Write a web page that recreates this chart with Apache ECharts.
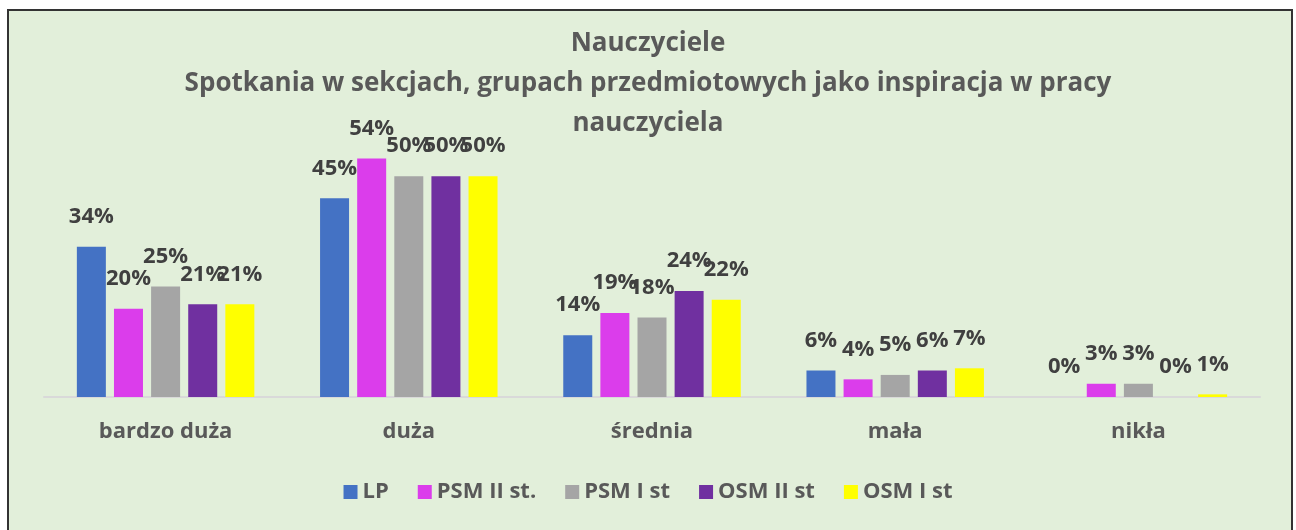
<!DOCTYPE html>
<html>
<head>
<meta charset="utf-8">
<script src="https://cdn.jsdelivr.net/npm/echarts@6/dist/echarts.min.js"></script>
<style>
  html, body { margin: 0; padding: 0; background: #fff; }
  #chart { width: 1296px; height: 530px; }
</style>
</head>
<body>
<div id="chart"></div>
<script>
// kategorie i serie (w %)
var categories = ['bardzo duża', 'duża', 'średnia', 'mała', 'nikła'];
var seriesNames = ['LP', 'PSM II st.', 'PSM I st', 'OSM II st', 'OSM I st'];
var lpData = [34, 45, 14, 6, 0];
var psm2Data = [20, 54, 19, 4, 3];
var psm1Data = [25, 50, 18, 5, 3];
var osm2Data = [21, 50, 24, 6, 0];
var osm1Data = [21, 50, 22, 6.5, 0.6];
var colors = ['#4472C4', '#DB3DEB', '#A5A5A5', '#7030A0', '#FFFF00'];

var allData = [lpData, psm2Data, psm1Data, osm2Data, osm1Data];
var font = '"Open Sans", "Noto Sans", sans-serif';

var myChart = echarts.init(document.getElementById('chart'));

var series = seriesNames.map(function (name, i) {
  return {
    name: name,
    type: 'bar',
    data: allData[i],
    barWidth: 29,
    barGap: '28%',
    itemStyle: { color: colors[i] },
    label: {
      show: true,
      position: 'top',
      distance: 19,
      color: '#404040',
      fontFamily: font,
      fontWeight: 'bold',
      fontSize: 22,
      formatter: function (p) { return Math.round(p.value) + '%'; }
    }
  };
});

var option = {
  backgroundColor: '#ffffff',
  color: colors,
  graphic: [{
    type: 'rect',
    z: -10,
    shape: { x: 8, y: 10, width: 1284, height: 540 },
    style: { fill: '#E2EFDA', stroke: '#333333', lineWidth: 2 }
  }],
  title: {
    text: 'Nauczyciele\nSpotkania w sekcjach, grupach przedmiotowych jako inspiracja w pracy\nnauczyciela',
    left: 'center',
    top: 24,
    padding: 0,
    textStyle: {
      color: '#595959',
      fontFamily: font,
      fontWeight: 'bold',
      fontSize: 26,
      lineHeight: 40
    }
  },
  legend: {
    data: seriesNames,
    bottom: 22,
    left: 'center',
    icon: 'rect',
    itemWidth: 14,
    itemHeight: 14,
    itemGap: 29,
    textStyle: {
      color: '#595959',
      fontFamily: font,
      fontWeight: 'bold',
      fontSize: 22
    }
  },
  grid: {
    left: 44,
    right: 36,
    top: 132,
    bottom: 133
  },
  xAxis: {
    type: 'category',
    data: categories,
    axisLine: { lineStyle: { color: '#D9D9D9', width: 2 } },
    axisTick: { show: false },
    axisLabel: {
      margin: 24,
      color: '#595959',
      fontFamily: font,
      fontWeight: 'bold',
      fontSize: 22
    }
  },
  yAxis: {
    type: 'value',
    min: 0,
    max: 60,
    show: false,
    splitLine: { show: false }
  },
  series: series
};
option && myChart.setOption(option);
</script>
</body>
</html>
